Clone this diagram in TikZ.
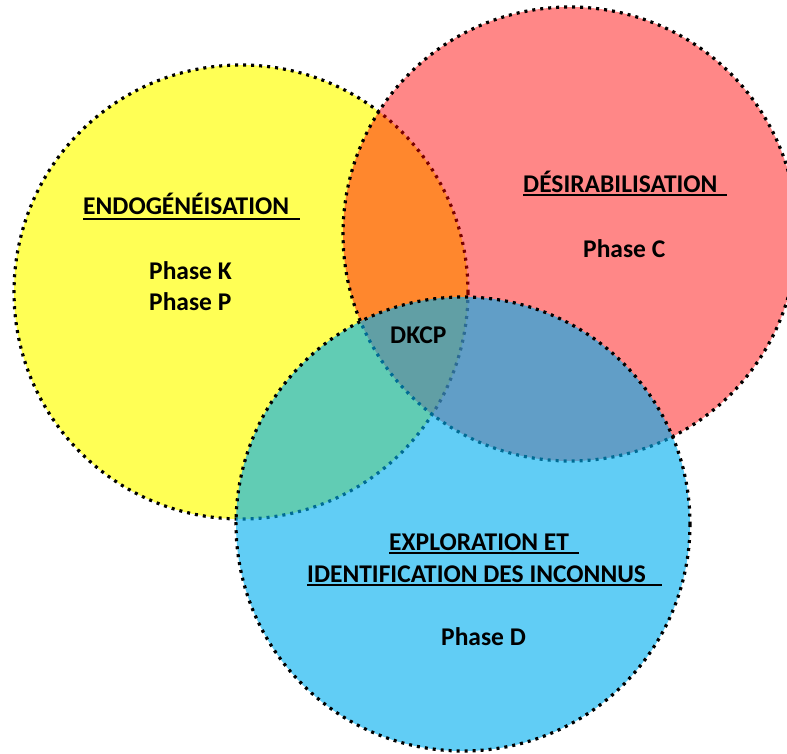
\documentclass[tikz,border=0pt]{standalone}
\usepackage{fontspec}
\setmainfont{Carlito}
\definecolor{ylw}{RGB}{255,255,85}
\definecolor{rd}{RGB}{255,0,0}
\definecolor{bl}{RGB}{0,174,239}
\begin{document}
\begin{tikzpicture}[x=1pt,y=-1pt,
  ring/.style={draw=black,line width=3.2pt,dash pattern=on 3pt off 5pt},
  lbl/.style={anchor=base west,inner sep=0pt,font=\fontsize{25.5}{30}\selectfont\bfseries},
  uline/.style={line width=2pt}]
\useasboundingbox (0,0) rectangle (787,753);
% circles
\fill[ylw] (241,292) circle (227);
\draw[ring] (241,292) circle (227);
\fill[rd,fill opacity=0.47] (570,234) circle (227);
\draw[ring] (570,234) circle (227);
\fill[bl,fill opacity=0.62] (463,524) circle (227);
\draw[ring] (463,524) circle (227);
% texts
\node[lbl] (t1) at (83,214) {ENDOGÉNÉISATION};
\node[lbl] (pk) at (149,279) {Phase K};
\node[lbl] (pp) at (149,310) {Phase P};
\node[lbl] (t2) at (523,192) {DÉSIRABILISATION};
\node[lbl] (pc) at (583,257) {Phase C};
\node[lbl] (t3) at (389,550) {EXPLORATION ET};
\node[lbl] (t4) at (307,582) {IDENTIFICATION DES INCONNUS};
\node[lbl] (pd) at (441,645) {Phase D};
\node[lbl] (dk) at (390,343) {DKCP};
% underlines
\draw[uline] ([yshift=-5pt]t1.base west) -- ++(217,0);
\draw[uline] ([yshift=-3pt]t2.base west) -- ++(204,0);
\draw[uline] ([yshift=-3pt]t3.base west) -- ++(190,0);
\draw[uline] ([yshift=-3pt]t4.base west) -- ++(355,0);
\end{tikzpicture}
\end{document}
